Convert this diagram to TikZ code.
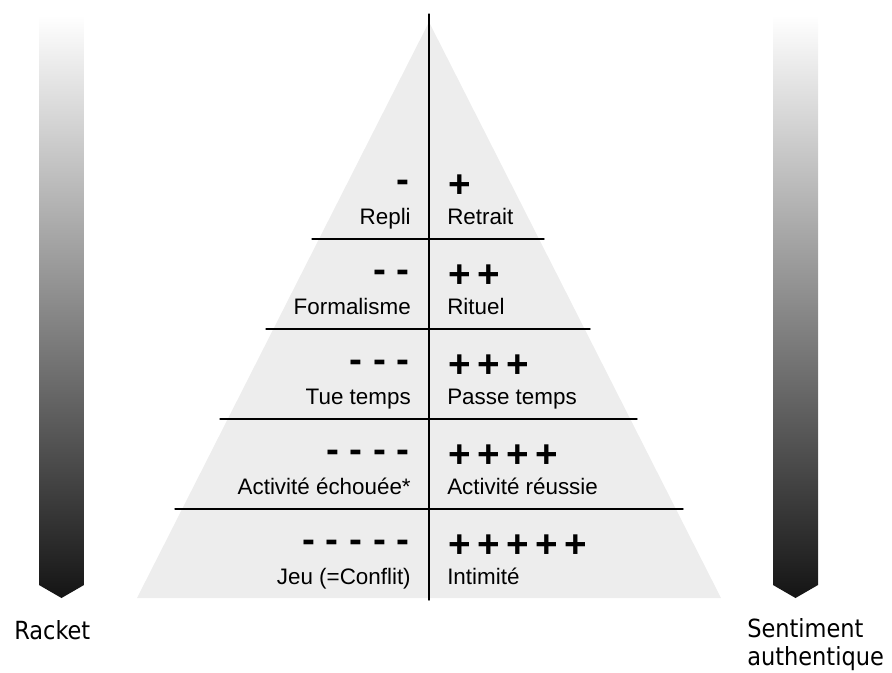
\documentclass[tikz,border=0pt]{standalone}
\usepackage{fontspec}
\setmainfont{Liberation Sans}
\newfontfamily\sidefont{DejaVu Sans Condensed}
\usetikzlibrary{positioning}

\tikzset{
  lev/.style={font=\fontsize{16.8pt}{18pt}\selectfont, inner sep=0pt},
  sgn/.style={font=\fontsize{29pt}{30pt}\selectfont\bfseries, inner sep=0pt},
  side/.style={font=\sidefont\fontsize{18.75pt}{21pt}\selectfont, inner sep=0pt},
  bar/.style={top color=white, middle color=black!40, bottom color=black!92},
  sep/.style={line width=1pt}
}

\begin{document}
\begin{tikzpicture}[x=0.75pt, y=-0.75pt, line cap=round, line join=round]
\useasboundingbox (0,0) rectangle (892,672);

% Pyramid
\fill[black!7] (429,22) -- (137,598) -- (721,598) -- cycle;
\draw[sep] (429,14) -- (429,600);
\draw[sep] (312,239) -- (544,239);
\draw[sep] (266,329) -- (590,329);
\draw[sep] (220,419) -- (637,419);
\draw[sep] (175,509) -- (683,509);

% Left arrow
\shade[bar] (39,15) -- (84,15) -- (84,585) -- (61.5,598) -- (39,585) -- cycle;
\node[side, anchor=base west] (racket) at (14,639) {Racket};

% Right arrow
\shade[bar] (773,15) -- (818,15) -- (818,585) -- (795.5,598) -- (773,585) -- cycle;
\node[side, anchor=base west] (sent) at (747,637) {Sentiment};
\node[side, anchor=base west] (auth) at (747,665) {authentique};

% Level 1
\node[sgn, anchor=base east] (m1) at (410,192) {-};
\node[sgn, anchor=base west] (p1) at (448,197) {+};
\node[lev, anchor=base east] (repli) at (411,224) {Repli};
\node[lev, anchor=base west] (retrait) at (447,224) {Retrait};

% Level 2
\node[sgn, anchor=base east] (m2) at (410,282) {- -};
\node[sgn, anchor=base west] (p2) at (448,287) {+\,+};
\node[lev, anchor=base east] (formal) at (411,314) {Formalisme};
\node[lev, anchor=base west] (rituel) at (447,314) {Rituel};

% Level 3
\node[sgn, anchor=base east] (m3) at (410,372) {- - -};
\node[sgn, anchor=base west] (p3) at (448,377) {+\,+\,+};
\node[lev, anchor=base east] (tue) at (411,404) {Tue temps};
\node[lev, anchor=base west] (passe) at (447,404) {Passe temps};

% Level 4
\node[sgn, anchor=base east] (m4) at (410,462) {- - - -};
\node[sgn, anchor=base west] (p4) at (448,467) {+\,+\,+\,+};
\node[lev, anchor=base east] (echec) at (411,494) {Activité échouée*};
\node[lev, anchor=base west] (reussi) at (447,494) {Activité réussie};

% Level 5
\node[sgn, anchor=base east] (m5) at (410,552) {- - - - -};
\node[sgn, anchor=base west] (p5) at (448,557) {+\,+\,+\,+\,+};
\node[lev, anchor=base east] (jeu) at (411,584) {Jeu (=Conflit)};
\node[lev, anchor=base west] (intim) at (447,584) {Intimité};
\end{tikzpicture}
\end{document}
